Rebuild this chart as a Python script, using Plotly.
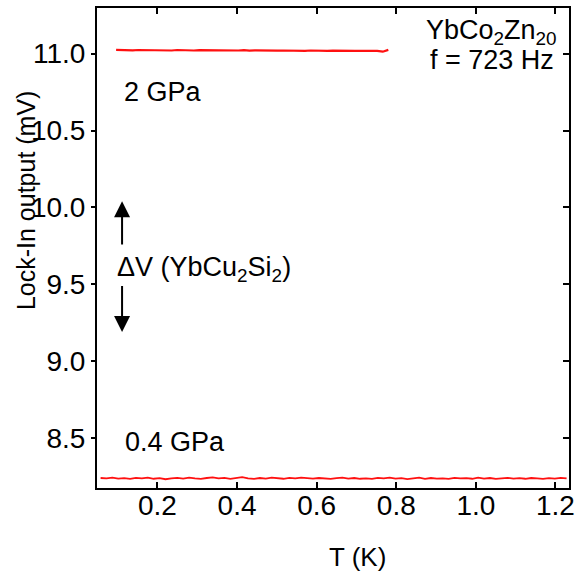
import numpy as np
import plotly.graph_objects as go

# ---- data ----
hi_label = "2 GPa"
hi_T_start, hi_T_end = 0.096, 0.780
hi_V = [11.024, 11.022, 11.024, 11.021, 11.023, 11.022, 11.024, 11.021, 11.023, 11.022,
        11.020, 11.023, 11.021, 11.022, 11.020, 11.022, 11.021, 11.023, 11.020, 11.022,
        11.019, 11.021, 11.020, 11.022, 11.019, 11.021, 11.020, 11.018, 11.021, 11.019,
        11.020, 11.018, 11.020, 11.019, 11.017, 11.020, 11.018, 11.019, 11.017, 11.019,
        11.018, 11.016, 11.019, 11.017, 11.018, 11.016, 11.018, 11.017, 11.012, 11.024]

lo_label = "0.4 GPa"
lo_T_start, lo_T_end = 0.057, 1.228
lo_V = [8.242, 8.239, 8.244, 8.238, 8.241, 8.236, 8.243, 8.240, 8.245, 8.237,
        8.241, 8.234, 8.240, 8.243, 8.238, 8.244, 8.239, 8.236, 8.242, 8.246,
        8.239, 8.243, 8.237, 8.241, 8.247, 8.240, 8.236, 8.242, 8.238, 8.244,
        8.241, 8.237, 8.243, 8.239, 8.245, 8.240, 8.238, 8.242, 8.239, 8.236,
        8.241, 8.244, 8.238, 8.242, 8.237, 8.240, 8.236, 8.243, 8.239, 8.245,
        8.238, 8.241, 8.235, 8.240, 8.244, 8.237, 8.242, 8.238, 8.240, 8.236,
        8.243, 8.239, 8.241, 8.237, 8.244, 8.238, 8.242, 8.236, 8.240, 8.243,
        8.238, 8.241, 8.237, 8.242, 8.239, 8.236, 8.241, 8.238, 8.243, 8.239]

x_ticks = [0.2, 0.4, 0.6, 0.8, 1.0, 1.2]
x_tick_text = ["0.2", "0.4", "0.6", "0.8", "1.0", "1.2"]
y_ticks = [8.5, 9.0, 9.5, 10.0, 10.5, 11.0]
y_tick_text = ["8.5", "9.0", "9.5", "10.0", "10.5", "11.0"]
x_range = [0.048, 1.234]
y_range = [8.177, 11.296]

hi_T = np.linspace(hi_T_start, hi_T_end, len(hi_V))
lo_T = np.linspace(lo_T_start, lo_T_end, len(lo_V))

FONT = "Liberation Sans, Arial, sans-serif"
FS = 28
AFS = 27
red = "#ff1010"

L, R, T, B = 97, 575, 6, 488  # plot-area pixel edges
W, H = 581, 577

fig = go.Figure()
fig.add_trace(go.Scatter(x=hi_T, y=hi_V, mode="lines", line=dict(color=red, width=2.2),
                         name=hi_label, showlegend=False))
fig.add_trace(go.Scatter(x=lo_T, y=lo_V, mode="lines", line=dict(color=red, width=1.8),
                         name=lo_label, showlegend=False))
# invisible trace on right axis so its inside ticks are drawn
fig.add_trace(go.Scatter(x=[0.5], y=[9.5], yaxis="y2", mode="markers",
                         marker=dict(opacity=0), showlegend=False, hoverinfo="skip"))

fig.update_layout(
    width=W, height=H,
    margin=dict(l=L, r=W - R, t=T, b=H - B),
    paper_bgcolor="white", plot_bgcolor="white",
    font=dict(family=FONT, size=FS, color="black"),
    xaxis=dict(range=x_range, tickvals=x_ticks, ticktext=x_tick_text,
               ticks="inside", ticklen=6, tickwidth=1.5, tickcolor="black",
               ticklabelstandoff=-9,
               showline=True, linecolor="black", linewidth=2, mirror="ticks",
               showgrid=False, zeroline=False, tickfont=dict(size=FS)),
    yaxis=dict(range=y_range, tickvals=y_ticks, ticktext=y_tick_text,
               ticks="outside", ticklen=4, tickwidth=1.5, tickcolor="black",
               showline=True, linecolor="black", linewidth=2, mirror=True,
               showgrid=False, zeroline=False, tickfont=dict(size=FS)),
    yaxis2=dict(range=y_range, tickvals=y_ticks, overlaying="y", side="right",
                ticks="inside", ticklen=6, tickwidth=1.5, tickcolor="black",
                showticklabels=False, showline=False, showgrid=False, zeroline=False),
)

ann = [
    dict(text="T (K)", xref="paper", yref="paper", x=(361 - L) / (R - L), y=-(557 - B) / (B - T),
         xanchor="center", yanchor="middle", showarrow=False, font=dict(size=26)),
    dict(text="Lock-In output (mV)", xref="paper", yref="paper", x=-(L - 25) / (R - L),
         y=(B - 199) / (B - T), xanchor="center", yanchor="middle", textangle=-90,
         showarrow=False, font=dict(size=25)),
    dict(text="YbCo<sub>2</sub>Zn<sub>20</sub>", x=1.04, y=11.14, xanchor="center", yanchor="middle",
         showarrow=False, font=dict(size=AFS)),
    dict(text="f = 723 Hz", x=1.04, y=10.955, xanchor="center", yanchor="middle",
         showarrow=False, font=dict(size=AFS)),
    dict(text=hi_label, x=0.110, y=10.75, xanchor="left", yanchor="middle",
         showarrow=False, font=dict(size=AFS)),
    dict(text=lo_label, x=0.114, y=8.478, xanchor="left", yanchor="middle",
         showarrow=False, font=dict(size=AFS)),
    dict(text="\u0394V (YbCu<sub>2</sub>Si<sub>2</sub>)", x=0.094, y=9.6, xanchor="left", yanchor="middle",
         showarrow=False, font=dict(size=AFS)),
    dict(x=0.111, y=10.04, ax=0.111, ay=9.75, xref="x", yref="y", axref="x", ayref="y",
         text="", showarrow=True, arrowhead=2, arrowsize=1.6, arrowwidth=2, arrowcolor="black"),
    dict(x=0.111, y=9.19, ax=0.111, ay=9.5, xref="x", yref="y", axref="x", ayref="y",
         text="", showarrow=True, arrowhead=2, arrowsize=1.6, arrowwidth=2, arrowcolor="black"),
]
fig.update_layout(annotations=ann)

fig.write_html("out.html", config={"displayModeBar": False},
               post_script="document.body.style.margin='0';document.body.style.overflow='hidden';")
